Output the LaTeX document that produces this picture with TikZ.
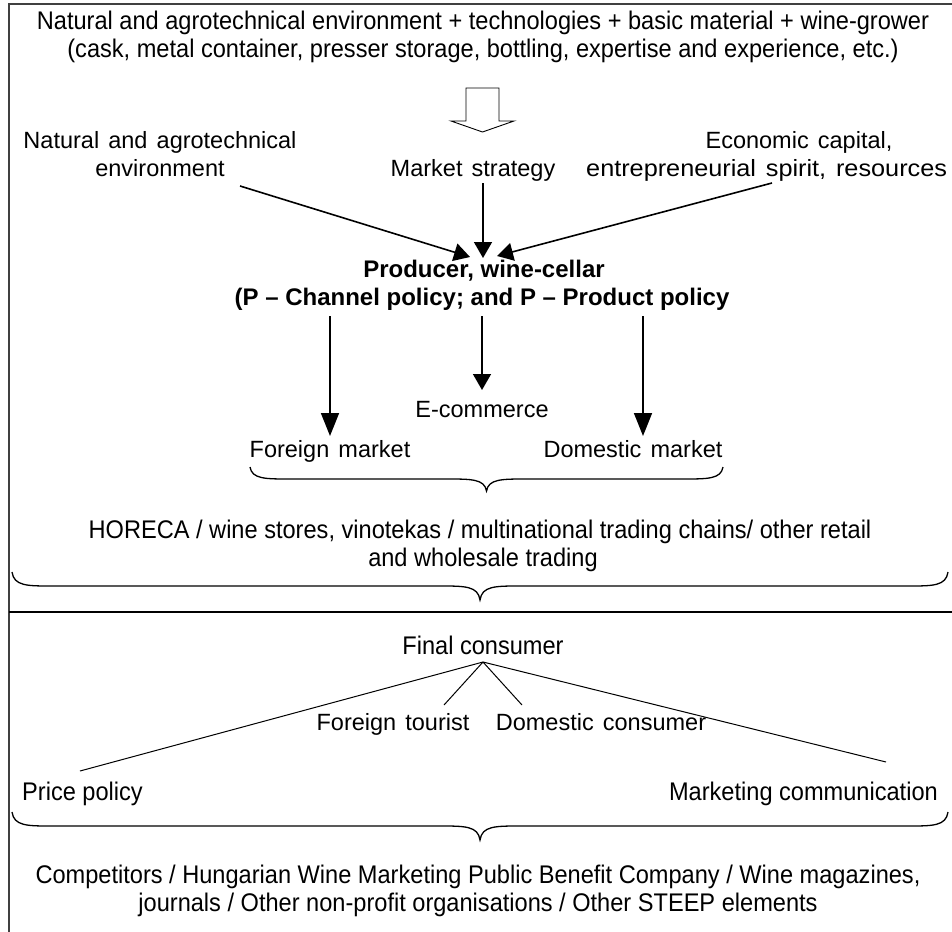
\documentclass[tikz,border=0pt]{standalone}
\usepackage{fontspec}
\setmainfont{Liberation Sans}
\newfontfamily\widefont[WordSpace=1.4]{Liberation Sans}
\newfontfamily\narrowfont[FakeStretch=0.925]{Liberation Sans}
\usetikzlibrary{arrows.meta}

\tikzset{
  txt/.style={inner sep=0pt, anchor=base, font=\widefont\fontsize{23.5}{28}\selectfont},
  ntxt/.style={inner sep=0pt, anchor=base, font=\narrowfont\fontsize{25.5}{28}\selectfont},
  btxt/.style={inner sep=0pt, anchor=base, font=\bfseries\fontsize{24}{28}\selectfont},
  feed/.style={line width=1.6pt, -{Triangle[length=16pt,width=18pt]}},
  chan/.style={line width=1.6pt, -{Triangle[length=23pt,width=18pt]}},
  link/.style={line width=1pt},
  bracket/.style={line width=1.3pt},
  frame/.style={line width=1.3pt, draw=black!75},
}

% horizontal curly bracket: #1 left x, #2 right x, #3 top y, #4 tip y
\newcommand{\hbrace}[4]{%
  \pgfmathsetmacro{\bmid}{(#3+#4)/2}%
  \pgfmathsetmacro{\bc}{(#1+#2)/2}%
  \draw[bracket] (#1,#3) .. controls (#1+2,\bmid) and (#1+15,\bmid) .. (#1+40,\bmid)
    -- (\bc-40,\bmid) .. controls (\bc-15,\bmid) and (\bc-2,\bmid) .. (\bc,#4)
    .. controls (\bc+2,\bmid) and (\bc+15,\bmid) .. (\bc+40,\bmid)
    -- (#2-40,\bmid) .. controls (#2-15,\bmid) and (#2-2,\bmid) .. (#2,#3);}

\begin{document}
\begin{tikzpicture}[x=1pt,y=-1pt]
\useasboundingbox (0,0) rectangle (952,931);
\clip (0,0) rectangle (952,931);

% outer frame and section divider
\draw[frame] (9,960) -- (9,4) -- (960,4);
\draw[line width=2.4pt] (9,612) -- (960,612);

% resources at the top
\node[ntxt] (res1) at (483,30) {Natural and agrotechnical environment + technologies + basic material + wine-grower};
\node[ntxt] (res2) at (483,58) {(cask, metal container, presser storage, bottling, expertise and experience, etc.)};

% hollow block arrow
\draw[line width=0.9pt, fill=white] (466,88) -- (499,88) -- (499,121) -- (514,121) -- (482.5,132)
  -- (451,121) -- (466,121) -- cycle;

% inputs to the producer
\node[txt] (nat1) at (160,148) {Natural and agrotechnical};
\node[txt] (nat2) at (160,176) {environment};
\node[txt] (mkt) at (473,176) {Market strategy};
\node[txt] (eco1) at (799,148) {Economic capital,};
\node[txt, anchor=base west] (eco2) at (586,176) {\scalebox{1.075}[1]{entrepreneurial spirit, resources}};

\node[btxt] (prod1) at (484,277) {Producer, wine-cellar};
\node[btxt] (prod2) at (482,305) {(P – Channel policy; and P – Product policy};

\coordinate (natA) at (240,186);
\coordinate (mktA) at (483,183);
\coordinate (ecoA) at (772,183);
\coordinate (prodL) at (470,257);
\coordinate (prodM) at (483,258);
\coordinate (prodR) at (497,256);
\draw[feed] (natA) -- (prodL);
\draw[feed] (mktA) -- (prodM);
\draw[feed] (ecoA) -- (prodR);

% sales channels
\node[txt] (ecom) at (482,417) {E-commerce};
\node[txt] (fmkt) at (330,457) {Foreign market};
\node[txt] (dmkt) at (633,457) {Domestic market};

\coordinate (outL) at (330,316);
\coordinate (outM) at (482,316);
\coordinate (outR) at (643,316);
\coordinate (fmktT) at (330,436);
\coordinate (ecomT) at (482,390);
\coordinate (dmktT) at (643,436);
\draw[chan] (outL) -- (fmktT);
\draw[feed] (outM) -- (ecomT);
\draw[chan] (outR) -- (dmktT);

\hbrace{250}{723}{467}{491}

\node[ntxt] (trade1) at (480,538) {HORECA / wine stores, vinotekas / multinational trading chains/ other retail};
\node[ntxt] (trade2) at (483,566) {and wholesale trading};

\hbrace{12}{948}{572}{600}

% consumer side
\node[ntxt] (cons) at (483,654) {Final consumer};
\node[txt] (tour) at (393,730) {Foreign tourist};
\node[txt] (domc) at (601,730) {Domestic consumer};
\node[ntxt, anchor=base west] (price) at (22,800) {Price policy};
\node[ntxt, anchor=base east] (comm) at (938,800) {Marketing communication};

\coordinate (apex) at (483,662);
\coordinate (priceT) at (80,771);
\coordinate (tourT) at (444,705);
\coordinate (domcT) at (522,705);
\coordinate (commT) at (886,762);
\draw[link] (apex) -- (priceT);
\draw[link] (apex) -- (tourT);
\draw[link] (apex) -- (domcT);
\draw[link] (apex) -- (commT);

\hbrace{12}{948}{812}{840}

\node[ntxt] (env1) at (478,883) {Competitors / Hungarian Wine Marketing Public Benefit Company / Wine magazines,};
\node[ntxt] (env2) at (478,911) {journals / Other non-profit organisations / Other STEEP elements};
\end{tikzpicture}
\end{document}
